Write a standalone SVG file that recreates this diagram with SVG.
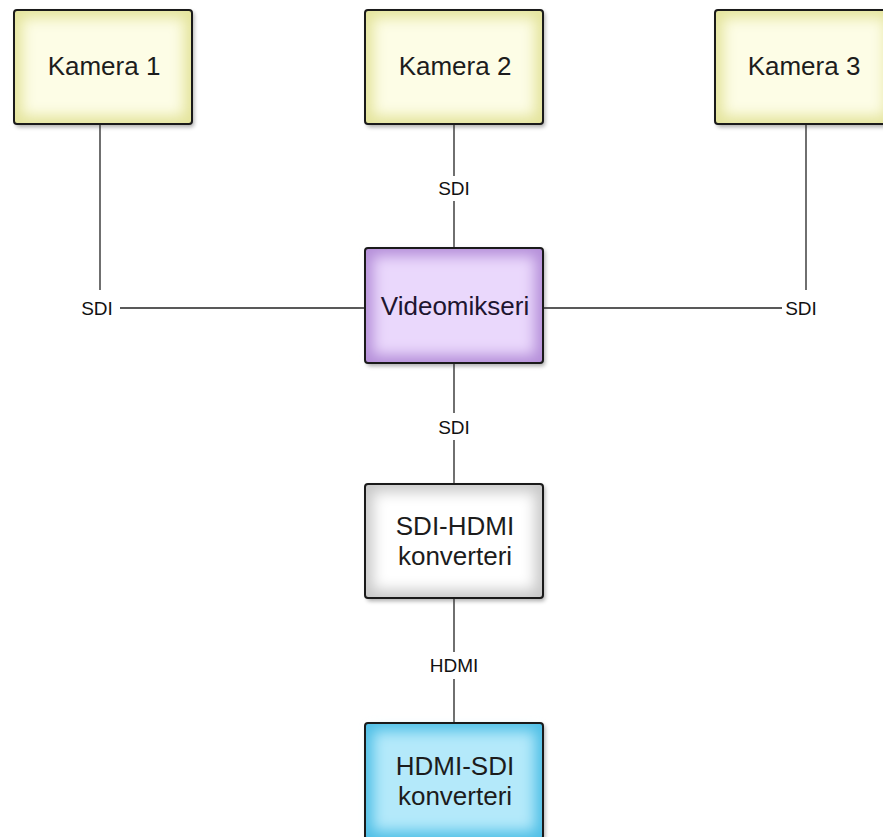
<svg xmlns="http://www.w3.org/2000/svg" width="883" height="837" viewBox="0 0 883 837">
<style>
.lbl{font-family:"Liberation Sans",Arial,sans-serif;font-size:26px;fill:#1c1c1c;text-anchor:middle}
.el{font-family:"Liberation Sans",Arial,sans-serif;font-size:19px;fill:#111;text-anchor:middle}
.conn line{stroke:#222;stroke-width:1.3}
.border{fill:none;stroke:#1a1a1a;stroke-width:2}
.shadow{fill:#000;opacity:0.35;filter:url(#sh)}
.inner{filter:url(#soft)}
</style>
<defs>
<filter id="sh" x="-10%" y="-10%" width="120%" height="130%"><feGaussianBlur stdDeviation="2"/></filter>
<filter id="soft" x="-20%" y="-20%" width="140%" height="140%"><feGaussianBlur stdDeviation="7"/></filter>
</defs>
<rect width="883" height="837" fill="#fff"/>
<g class="conn">
<line x1="100" y1="124" x2="100" y2="290"/>
<line x1="120" y1="308" x2="365" y2="308"/>
<line x1="806" y1="124" x2="806" y2="290"/>
<line x1="543" y1="308" x2="782" y2="308"/>
<line x1="454" y1="124" x2="454" y2="176"/>
<line x1="454" y1="201" x2="454" y2="248"/>
<line x1="454" y1="363" x2="454" y2="413"/>
<line x1="454" y1="440" x2="454" y2="484"/>
<line x1="454" y1="598" x2="454" y2="652"/>
<line x1="454" y1="679" x2="454" y2="723"/>
<text class="el" x="97" y="315">SDI</text>
<text class="el" x="801" y="315">SDI</text>
<text class="el" x="454" y="195">SDI</text>
<text class="el" x="454" y="434">SDI</text>
<text class="el" x="454" y="672">HDMI</text>
</g>
<g id="kamera1">
<rect class="shadow" x="16" y="12" width="178" height="115" rx="3"/>
<rect x="14" y="10" width="178" height="114" rx="3" fill="#e4e49c"/>
<rect class="inner" x="22" y="18" width="162" height="98" fill="#fdfde6"/>
<rect class="border" x="14" y="10" width="178" height="114" rx="3"/>
<text class="lbl" x="104" y="75">Kamera 1</text>
</g>
<g id="kamera2">
<rect class="shadow" x="367" y="12" width="178" height="115" rx="3"/>
<rect x="365" y="10" width="178" height="114" rx="3" fill="#e4e49c"/>
<rect class="inner" x="373" y="18" width="162" height="98" fill="#fdfde6"/>
<rect class="border" x="365" y="10" width="178" height="114" rx="3"/>
<text class="lbl" x="455" y="75">Kamera 2</text>
</g>
<g id="kamera3">
<rect class="shadow" x="717" y="12" width="178" height="115" rx="3"/>
<rect x="715" y="10" width="178" height="114" rx="3" fill="#e4e49c"/>
<rect class="inner" x="723" y="18" width="162" height="98" fill="#fdfde6"/>
<rect class="border" x="715" y="10" width="178" height="114" rx="3"/>
<text class="lbl" x="804" y="75">Kamera 3</text>
</g>
<g id="videomikseri">
<rect class="shadow" x="367" y="250" width="178" height="116" rx="3"/>
<rect x="365" y="248" width="178" height="115" rx="3" fill="#b58fd9"/>
<rect class="inner" x="373" y="256" width="162" height="99" fill="#ead8fc"/>
<rect class="border" x="365" y="248" width="178" height="115" rx="3"/>
<text class="lbl" x="455" y="315" style="fill:#1e1530">Videomikseri</text>
</g>
<g id="sdi-hdmi">
<rect class="shadow" x="367" y="486" width="178" height="115" rx="3"/>
<rect x="365" y="484" width="178" height="114" rx="3" fill="#c8c8c8"/>
<rect class="inner" x="373" y="492" width="162" height="98" fill="#ffffff"/>
<rect class="border" x="365" y="484" width="178" height="114" rx="3"/>
<text class="lbl" x="455" y="535">SDI-HDMI</text>
<text class="lbl" x="455" y="565">konverteri</text>
</g>
<g id="hdmi-sdi">
<rect class="shadow" x="367" y="725" width="178" height="116" rx="3"/>
<rect x="365" y="723" width="178" height="116" rx="3" fill="#4fbfe6"/>
<rect class="inner" x="373" y="731" width="162" height="100" fill="#b4e9fa"/>
<rect class="border" x="365" y="723" width="178" height="116" rx="3"/>
<text class="lbl" x="455" y="775">HDMI-SDI</text>
<text class="lbl" x="455" y="805">konverteri</text>
</g>
</svg>
